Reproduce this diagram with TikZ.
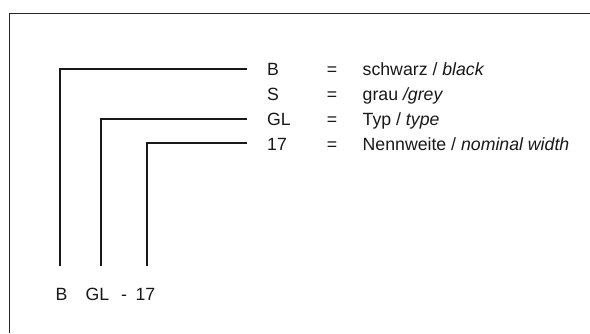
\documentclass[tikz,border=0pt]{standalone}
\usepackage{fontspec}
\setmainfont{Liberation Sans}
\begin{document}
\begin{tikzpicture}[x=1pt,y=-1pt,
  conn/.style={line width=2pt,color=black!90},
  frame/.style={line width=1pt,color=black!85},
  lbl/.style={inner sep=0pt,font=\fontsize{17.7}{20}\selectfont,text=black!90}]
\useasboundingbox (0,0) rectangle (590,333);
\fill[white] (0,0) rectangle (590,333);
% frame (left and top edges visible)
\draw[frame] (9.3,333) -- (9.3,13.5) -- (590,13.5);
% legend rows
\node[lbl,anchor=base west] (cB) at (267,75) {B};
\node[lbl,anchor=base west] (cS) at (267,100) {S};
\node[lbl,anchor=base west] (cGL) at (267,125) {GL};
\node[lbl,anchor=base west] (c17) at (267,150) {17};
\node[lbl,anchor=base] (q1) at (332,75) {=};
\node[lbl,anchor=base] (q2) at (332,100) {=};
\node[lbl,anchor=base] (q3) at (332,125) {=};
\node[lbl,anchor=base] (q4) at (332,150) {=};
\node[lbl,anchor=base west] (d1) at (362.5,75) {schwarz / \textit{black}};
\node[lbl,anchor=base west] (d2) at (362.5,100) {grau \textit{/grey}};
\node[lbl,anchor=base west] (d3) at (362.5,125) {Typ / \textit{type}};
\node[lbl,anchor=base west] (d4) at (362.5,150) {Nennweite / \textit{nominal width}};
% bottom code
\node[lbl,anchor=base west] (bB) at (55.5,300) {B};
\node[lbl,anchor=base west] (bGL) at (85.5,300) {GL};
\node[lbl,anchor=base] (bdash) at (124,300) {-};
\node[lbl,anchor=base east] (b17) at (155.5,300) {17};
% connector end points
\coordinate (s1) at (60,266);
\coordinate (s2) at (100.7,266);
\coordinate (s3) at (146.7,266);
\coordinate (e1) at (247,68.5);
\coordinate (e2) at (247,118.8);
\coordinate (e3) at (247,142.6);
\draw[conn] (s1) |- (e1);
\draw[conn] (s2) |- (e2);
\draw[conn] (s3) |- (e3);
\end{tikzpicture}
\end{document}
